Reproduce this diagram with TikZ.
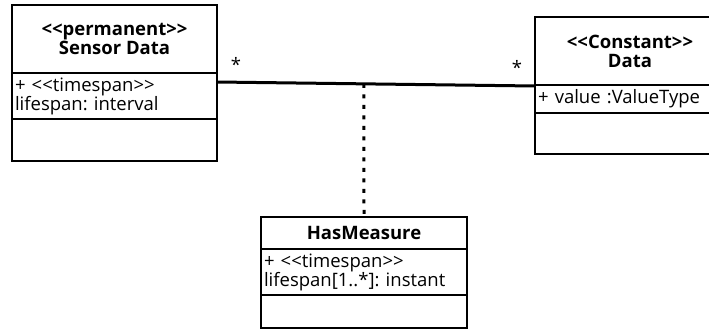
\documentclass[tikz,border=0pt]{standalone}
\usepackage{fontspec}
\setmainfont{Open Sans}
\usetikzlibrary{positioning}
\frenchspacing
\tikzset{
  node distance=0pt,
  classhead/.style 2 args={rectangle, draw=black, line width=2pt, outer sep=0pt,
              inner sep=0pt, align=center, minimum width=#1, minimum height=#2,
              font=\fontsize{18.5}{19}\selectfont\bfseries},
  classbody/.style 2 args={rectangle, draw=black, line width=2pt, outer sep=0pt,
              inner xsep=3pt, inner ysep=0pt, align=left, text width=#1-6pt,
              minimum height=#2, font=\fontsize{18.5}{19}\selectfont},
  assoc/.style={line width=3pt},
  attachline/.style={line width=3pt, dash pattern=on 4pt off 6.5pt},
  mult/.style={font=\fontsize{18.5}{19}\selectfont, inner sep=0pt},
}

\begin{document}
\begin{tikzpicture}[x=1pt, y=-1pt]
  \useasboundingbox (0,0) rectangle (709,330);
  % sensor data class
  \node[classhead={205pt}{68pt}, anchor=north west] (sensorhead) at (12,5)
    {<{}<permanent>{}>\\Sensor Data};
  \node[classbody={205pt}{46pt}, below=of sensorhead] (sensorattr)
    {+ <{}<timespan>{}>\\lifespan: interval};
  \node[classbody={205pt}{42pt}, below=of sensorattr] (sensorops) {};
  % data class
  \node[classhead={190pt}{68pt}, anchor=north west] (datahead) at (535,17)
    {<{}<Constant>{}>\\Data};
  \node[classbody={190pt}{28pt}, below=of datahead] (dataattr)
    {+ value :ValueType};
  \node[classbody={190pt}{41pt}, below=of dataattr] (dataops) {};
  % association class
  \node[classhead={206pt}{32pt}, anchor=north west] (hmhead) at (261,217)
    {HasMeasure};
  \node[classbody={206pt}{46pt}, below=of hmhead] (hmattr)
    {+ <{}<timespan>{}>\\lifespan[1..*]: instant};
  \node[classbody={206pt}{33pt}, below=of hmattr] (hmops) {};
  % links
  \draw[assoc] ([yshift=-9pt]sensorattr.north east)
      node[mult, anchor=base, xshift=19pt, yshift=11pt] {*}
    -- coordinate[pos=0.462] (assocmid)
      ([yshift=-1pt]dataattr.north west)
      node[mult, anchor=base, xshift=-18pt, yshift=12pt] {*};
  \draw[attachline] (assocmid) -- (hmhead.north);
\end{tikzpicture}
\end{document}
